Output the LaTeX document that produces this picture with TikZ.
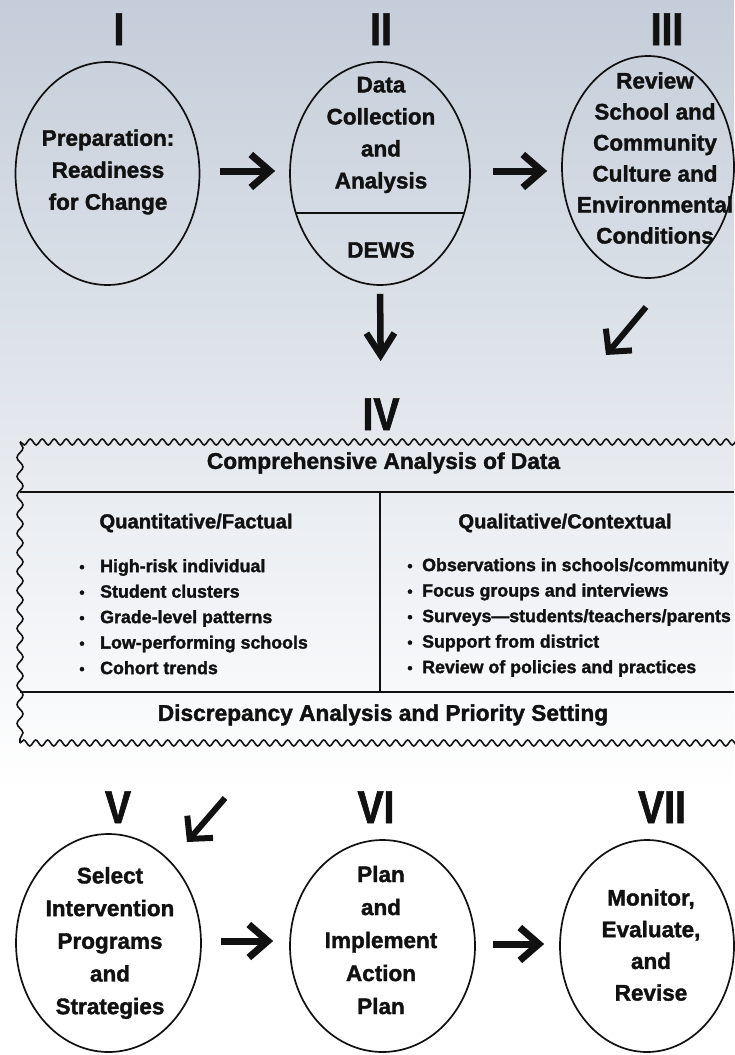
\documentclass[tikz,border=0pt]{standalone}
\usepackage{fontspec}
\setmainfont{Liberation Sans}[BoldFeatures={FakeBold=1.6}]
\newfontfamily\numfont{Liberation Sans}[FakeStretch=0.85, BoldFeatures={FakeBold=1.5}]
\usetikzlibrary{shapes.geometric,arrows.meta,decorations.pathmorphing}
\definecolor{bgtop}{RGB}{196,205,217}
\definecolor{ink}{RGB}{17,17,17}
\begin{document}
\begin{tikzpicture}[x=1pt,y=1pt,
  oval/.style={draw=ink, line width=1.7pt, ellipse, inner sep=0pt},
  ovaltext/.style={align=center, inner sep=0pt, text=ink, font=\bfseries\fontsize{22.5}{32}\selectfont},
  roman/.style={font=\numfont\bfseries\fontsize{46}{46}\selectfont, anchor=base, inner sep=0pt, text=ink},
  hdr/.style={font=\bfseries\fontsize{22.7}{26}\selectfont, inner sep=0pt, text=ink},
  sub/.style={font=\bfseries\fontsize{20.2}{24}\selectfont, inner sep=0pt, text=ink},
  lst/.style={font=\bfseries\fontsize{17.8}{25.5}\selectfont, inner sep=0pt, text=ink, align=left},
  blt/.style={font=\bfseries\fontsize{15}{25.5}\selectfont, inner sep=0pt, text=ink, align=center},
  harr/.style={draw=ink, line width=7pt, -{Straight Barb[length=19pt,width=33pt]}},
  varr/.style={draw=ink, line width=6.5pt, -{Straight Barb[length=22pt,width=28pt]}},
  darr/.style={draw=ink, line width=6pt, -{Straight Barb[length=16pt,width=34pt]}},
  boxline/.style={draw=ink, line width=1.8pt},
  wavy/.style={draw=ink, line width=1.6pt, decorate, decoration={snake, segment length=#1, amplitude=3pt}}
]
\useasboundingbox (0,0) rectangle (734,-1055);
\shade[top color=bgtop, bottom color=white] (0,0) rectangle (734,-790);
\fill[white] (0,-790) rectangle (734,-1055);

% Roman numerals
\node[roman] (r1) at (119,-45) {I};
\node[roman] (r2) at (381,-45) {II};
\node[roman] (r3) at (667,-45) {III};
\node[roman] (r4) at (381,-430) {IV};
\node[roman] (r5) at (118,-823) {V};
\node[roman] (r6) at (376,-823) {VI};
\node[roman] (r7) at (662,-823) {VII};

% Top ellipses
\node[oval, minimum width=184pt, minimum height=223pt] (e1) at (107.5,-173.5) {};
\node[ovaltext] (t1) at (108,-172) {Preparation:\\Readiness\\for Change};

\node[oval, minimum width=180pt, minimum height=223pt] (e2) at (380,-173.5) {};
\begin{scope}
  \clip (e2.center) ellipse [x radius=90pt, y radius=111.5pt];
  \draw[ink, line width=1.7pt] (e2.west |- 0,-213) -- (e2.east |- 0,-213);
\end{scope}
\node[ovaltext] (t2) at (381,-135) {Data\\Collection\\and\\Analysis};
\node[ovaltext] (t2b) at (381,-250) {DEWS};

\node[oval, minimum width=172pt, minimum height=222pt] (e3) at (648,-167) {};
\node[ovaltext, font=\bfseries\fontsize{22.5}{31}\selectfont] (t3) at (655,-158) {Review\\School and\\Community\\Culture and\\Environmental\\Conditions};

% Top arrows
\draw[harr, shorten <=20pt, shorten >=14pt] ([yshift=2.5pt]e1.east) -- ([yshift=2.5pt]e1.east -| e2.west);
\draw[harr, shorten <=22pt, shorten >=14pt] ([yshift=2.5pt]e2.east) -- ([yshift=2.5pt]e2.east -| e3.west);
\draw[varr, shorten <=8pt, shorten >=37pt] (e2.south) -- (r4.north);
\coordinate (d1a) at (646,-307);
\coordinate (d1b) at (606,-355);
\draw[darr] (d1a) -- (d1b);

% Wavy box
\draw[wavy=12pt] (748,-442) -- (20,-442);
\draw[wavy=19pt] (20,-442) -- (20,-743);
\draw[wavy=12pt] (20,-743) -- (748,-743);
\draw[boxline] (20,-492) -- (734,-492);
\draw[boxline] (20,-692) -- (734,-692);
\draw[boxline] (380,-492) -- (380,-692);

\node[hdr] (cad) at (383.5,-463) {Comprehensive Analysis of Data};
\node[sub] (qf) at (196,-523) {Quantitative/Factual};
\node[sub] (qc) at (565,-523) {Qualitative/Contextual};
\node[blt] (lb) at (82,-618) {\strut•\\\strut•\\\strut•\\\strut•\\\strut•};
\node[lst, anchor=west] (lt) at (100,-618) {\strut High-risk individual\\\strut Student clusters\\\strut Grade-level patterns\\\strut Low-performing schools\\\strut Cohort trends};
\node[blt] (rb) at (410,-617) {\strut•\\\strut•\\\strut•\\\strut•\\\strut•};
\node[lst, anchor=west] (rt) at (422,-617) {\strut Observations in schools/community\\\strut Focus groups and interviews\\\strut Surveys—students/teachers/parents\\\strut Support from district\\\strut Review of policies and practices};
\node[hdr] (das) at (383,-715) {Discrepancy Analysis and Priority Setting};

% Bottom ellipses
\node[oval, minimum width=185pt, minimum height=218pt] (e5) at (108.5,-943) {};
\node[ovaltext, font=\bfseries\fontsize{22.5}{32.7}\selectfont] (t5) at (110,-943) {Select\\Intervention\\Programs\\and\\Strategies};
\node[oval, minimum width=185pt, minimum height=212pt] (e6) at (382.5,-946) {};
\node[ovaltext, font=\bfseries\fontsize{22.5}{33}\selectfont] (t6) at (381,-940) {Plan\\and\\Implement\\Action\\Plan};
\node[oval, minimum width=174pt, minimum height=212pt] (e7) at (647,-946) {};
\node[ovaltext, font=\bfseries\fontsize{22.5}{31.7}\selectfont] (t7) at (651,-945) {Monitor,\\Evaluate,\\and\\Revise};

% Bottom arrows
\coordinate (d2a) at (225,-798);
\coordinate (d2b) at (187,-842);
\draw[darr] (d2a) -- (d2b);
\draw[harr, shorten <=19pt, shorten >=16pt] ([yshift=2pt]e5.east) -- ([yshift=2pt]e5.east -| e6.west);
\draw[harr, shorten <=17pt, shorten >=15pt] ([yshift=2pt]e6.east) -- ([yshift=2pt]e6.east -| e7.west);
\end{tikzpicture}
\end{document}
